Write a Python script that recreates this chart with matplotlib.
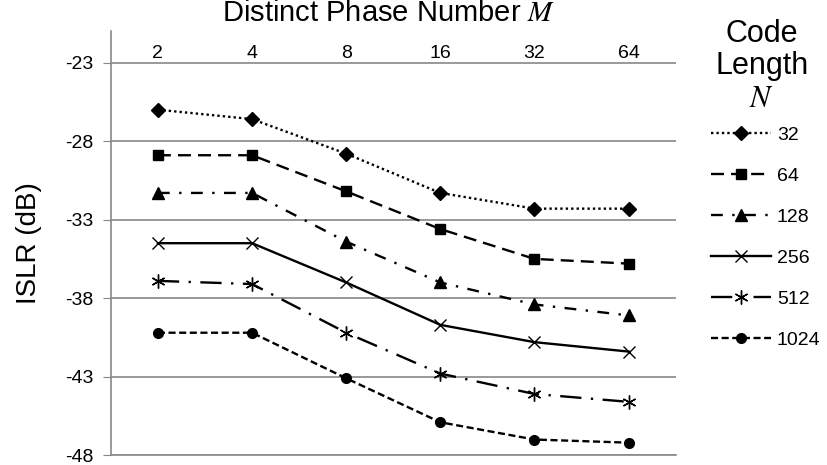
import matplotlib
matplotlib.use("Agg")
import matplotlib.pyplot as plt

# ----- datos -----
fases = ["2", "4", "8", "16", "32", "64"]
longitudes = ["32", "64", "128", "256", "512", "1024"]

islr_32 = [-26.0, -26.6, -28.8, -31.3, -32.3, -32.3]
islr_64 = [-28.9, -28.9, -31.2, -33.6, -35.5, -35.8]
islr_128 = [-31.3, -31.3, -34.4, -37.0, -38.4, -39.1]
islr_256 = [-34.5, -34.5, -37.0, -39.7, -40.8, -41.4]
islr_512 = [-36.9, -37.1, -40.2, -42.8, -44.1, -44.6]
islr_1024 = [-40.2, -40.2, -43.1, -45.9, -47.0, -47.2]

series = [islr_32, islr_64, islr_128, islr_256, islr_512, islr_1024]

estilos = [
    dict(ls=(0, (1, 1.3)), marker="D", ms=7),
    dict(ls=(0, (5.5, 3)), marker="s", ms=7),
    dict(ls=(0, (5, 4, 1, 4)), marker="^", ms=8),
    dict(ls="-", marker="x", ms=9, mew=1.0),
    dict(ls=(0, (9, 4, 1, 4)), marker=(6, 2, 0), ms=10, mew=1.0),
    dict(ls=(0, (3, 1.5)), marker="o", ms=7),
]

plt.rcParams['font.family'] = ['Liberation Sans', 'DejaVu Sans']
plt.rcParams['mathtext.fontset'] = 'stix'
plt.rcParams['axes.unicode_minus'] = False

fig = plt.figure(figsize=(8.27, 4.65), dpi=100)
ax = fig.add_axes([0.134, 0.021, 0.683, 0.912])

x = list(range(len(fases)))
for valores, nombre, est in zip(series, longitudes, estilos):
    ax.plot(x, valores, color="black", lw=1.7, label=nombre,
            mfc="black", mec="black", **est)

ax.set_xlim(-0.5, len(fases) - 0.5)
ax.set_ylim(-48, -21)
ax.set_yticks([-48, -43, -38, -33, -28, -23])
ax.set_xticks(x)
ax.set_xticklabels(fases)
ax.yaxis.grid(True, color="#888888", lw=1.2)
ax.set_axisbelow(True)

for s in ["top", "right"]:
    ax.spines[s].set_visible(False)
ax.spines["left"].set_color("#888888")
ax.spines["left"].set_linewidth(1.2)
ax.spines["bottom"].set_color("#888888")
ax.spines["bottom"].set_linewidth(1.2)

ax.tick_params(axis="x", top=True, labeltop=True, bottom=False,
               labelbottom=False, length=0, pad=-22, labelsize=14)
ax.tick_params(axis="y", length=6, color="#888888", labelsize=14, pad=17)
for t in ax.get_yticklabels():
    t.set_horizontalalignment("center")

fig.text(0.47, 0.972, "Distinct Phase Number $\\mathit{M}$", ha="center",
         va="center", fontsize=21)
ax.set_ylabel("ISLR (dB)", fontsize=20, labelpad=16)

# titulo de la leyenda aparte para controlar su posicion
fig.text(0.921, 0.96, "Code\nLength\n$\\mathit{N}$", ha="center", va="top",
         multialignment="center", fontsize=22, linespacing=1.12)

leg = fig.legend(loc="upper left", bbox_to_anchor=(0.843, 0.757),
                 frameon=False, fontsize=14, handlelength=3.1,
                 handletextpad=0.3, labelspacing=1.2, borderpad=0.2)

fig.savefig("out.png", dpi=100)
